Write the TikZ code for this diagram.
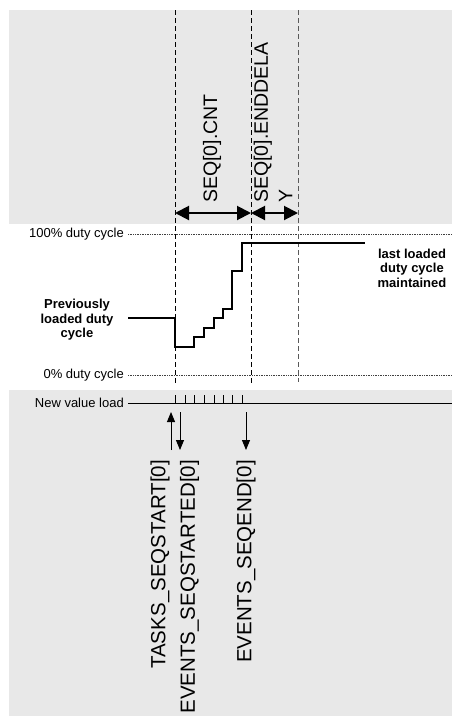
\documentclass[tikz,border=0pt]{standalone}
\usepackage{fontspec}
\setmainfont{Liberation Sans}
\usetikzlibrary{arrows.meta}
\definecolor{panel}{HTML}{E8E8E8}

\begin{document}
\begin{tikzpicture}[x=1pt,y=-1pt,font=\fontsize{13}{14}\selectfont,
  guide/.style={dash pattern=on 5pt off 3pt,line width=1pt},
  level/.style={densely dotted,line width=0.7pt,black!75},
  span/.style={{Triangle[length=14pt,width=14pt]}-{Triangle[length=14pt,width=14pt]},line width=2pt},
  sig/.style={-{Triangle[length=10pt,width=8pt]},line width=0.9pt},
  vlabel/.style={rotate=90,inner sep=0pt,font=\fontsize{19.5}{24.5}\selectfont},
  evlabel/.style={vlabel,anchor=east,font=\fontsize{20.5}{24.5}\selectfont},
  side/.style={anchor=east,inner sep=0pt},
  note/.style={align=center,inner sep=0pt,font=\bfseries\fontsize{13}{14.5}\selectfont}]
  \useasboundingbox (0,0) rectangle (452,716);
  \fill[panel] (9,10) rectangle (452,224);
  \fill[panel] (9,390) rectangle (452,716);

  % levels
  \node[side] (full) at (124,234) {100\% duty cycle};
  \node[side] (zero) at (124,375) {0\% duty cycle};
  \node[side] (load) at (124,403) {New value load};
  \draw[level] (full.east) ++(4,0) -- (452,234);
  \draw[level] (zero.east) ++(4,0) -- (452,375);
  \draw[line width=0.9pt] (load.east) ++(4,0) -- (452,403);

  % time markers
  \coordinate (t0) at (175,213);
  \coordinate (t1) at (251,213);
  \coordinate (t2) at (298,213);
  \draw[guide] (175,10) -- (175,385);
  \draw[guide] (251,10) -- (251,384);
  \draw[guide,black!65] (298,10) -- (298,382);
  \draw[span] (t0) -- (t1);
  \draw[span] (t1) -- (t2);
  \node[vlabel,anchor=west] (cnt) at (212,203) {SEQ[0].CNT};
  \node[vlabel,anchor=west,align=left] (enddelay) at (273,203) {SEQ[0].ENDDELA\\Y};

  % duty cycle
  \draw[line width=2.4pt,line cap=butt] (128,318) -- (175,318) -- (175,347) -- (194,347)
    -- (194,337) -- (204,337) -- (204,328) -- (214,328) -- (214,318) -- (223,318)
    -- (223,309) -- (232,309) -- (232,271) -- (242,271) -- (242,243) -- (365,243);
  \node[note] (prev) at (77,320) {Previously\\loaded duty\\cycle};
  \node[note] (last) at (412,268) {last loaded\\duty cycle\\maintained};

  % loads
  \foreach \x in {175,185,194,204,214,223,232,242} {
    \draw[line width=0.8pt] (\x,395) -- (\x,403);
  }

  % tasks and events
  \coordinate (start) at (171,412);
  \coordinate (started) at (180,412);
  \coordinate (seqend) at (246,412);
  \node[evlabel] (tstart) at (160,460) {TASKS\_SEQSTART[0]};
  \node[evlabel] (estarted) at (189.5,460) {EVENTS\_SEQSTARTED[0]};
  \node[evlabel] (eend) at (246,460) {EVENTS\_SEQEND[0]};
  \draw[sig] (171,450) -- (start);
  \draw[sig] (started) -- (180,450);
  \draw[sig] (seqend) -- (246,450);
\end{tikzpicture}
\end{document}
